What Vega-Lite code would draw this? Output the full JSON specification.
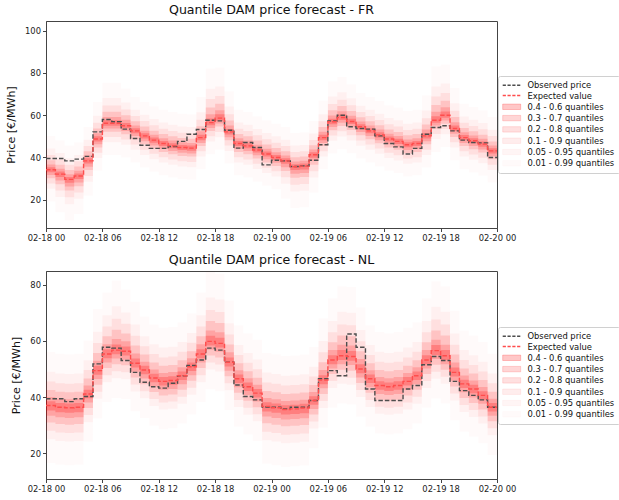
{
"$schema": "https://vega.github.io/schema/vega-lite/v6.json",
"background": "white",
"padding": {"left": 5, "top": 3, "right": 0, "bottom": 0},
"spacing": 10,
"datasets": {
"fr": [
{"h":0,"obs":39.5,"exp":34.2,"q01":19.2,"q05":25.2,"q10":27.7,"q20":30.2,"q30":31.7,"q40":33.0,"q60":35.4,"q70":36.7,"q80":38.7,"q90":41.2,"q95":44.2,"q99":50.2},
{"h":1,"obs":39.5,"exp":32.1,"q01":14.1,"q05":21.3,"q10":24.3,"q20":27.3,"q30":29.1,"q40":30.7,"q60":33.3,"q70":34.6,"q80":36.6,"q90":39.1,"q95":42.1,"q99":48.1},
{"h":2,"obs":38.4,"exp":29.6,"q01":10.1,"q05":17.9,"q10":21.1,"q20":24.4,"q30":26.3,"q40":28.0,"q60":30.8,"q70":32.1,"q80":34.1,"q90":36.6,"q95":39.6,"q99":45.6},
{"h":3,"obs":39.2,"exp":31.2,"q01":13.2,"q05":20.4,"q10":23.4,"q20":26.4,"q30":28.2,"q40":29.8,"q60":32.4,"q70":33.7,"q80":35.7,"q90":38.2,"q95":41.2,"q99":47.2},
{"h":4,"obs":40.5,"exp":38.4,"q01":21.9,"q05":28.5,"q10":31.2,"q20":34.0,"q30":35.6,"q40":37.1,"q60":39.6,"q70":40.9,"q80":42.9,"q90":45.4,"q95":48.4,"q99":54.4},
{"h":5,"obs":52.1,"exp":48.7,"q01":33.7,"q05":39.7,"q10":42.2,"q20":44.7,"q30":46.2,"q40":47.5,"q60":50.0,"q70":51.5,"q80":53.7,"q90":56.4,"q95":59.7,"q99":66.3},
{"h":6,"obs":58.0,"exp":56.2,"q01":41.2,"q05":47.2,"q10":49.7,"q20":52.2,"q30":53.7,"q40":55.0,"q60":57.6,"q70":59.2,"q80":61.6,"q90":64.6,"q95":68.2,"q99":75.4},
{"h":7,"obs":56.9,"exp":56.2,"q01":41.2,"q05":47.2,"q10":49.7,"q20":52.2,"q30":53.7,"q40":55.0,"q60":57.6,"q70":59.2,"q80":61.6,"q90":64.6,"q95":68.2,"q99":75.4},
{"h":8,"obs":53.4,"exp":55.0,"q01":40.0,"q05":46.0,"q10":48.5,"q20":51.0,"q30":52.5,"q40":53.8,"q60":56.3,"q70":57.8,"q80":60.0,"q90":62.7,"q95":66.0,"q99":72.6},
{"h":9,"obs":49.0,"exp":52.6,"q01":37.6,"q05":43.6,"q10":46.1,"q20":48.6,"q30":50.1,"q40":51.4,"q60":53.8,"q70":55.1,"q80":57.1,"q90":59.6,"q95":62.6,"q99":68.6},
{"h":10,"obs":45.8,"exp":50.2,"q01":35.2,"q05":41.2,"q10":43.7,"q20":46.2,"q30":47.7,"q40":49.0,"q60":51.4,"q70":52.7,"q80":54.7,"q90":57.2,"q95":60.2,"q99":66.2},
{"h":11,"obs":44.3,"exp":48.2,"q01":33.2,"q05":39.2,"q10":41.7,"q20":44.2,"q30":45.7,"q40":47.0,"q60":49.4,"q70":50.7,"q80":52.7,"q90":55.2,"q95":58.2,"q99":64.2},
{"h":12,"obs":44.3,"exp":46.6,"q01":31.6,"q05":37.6,"q10":40.1,"q20":42.6,"q30":44.1,"q40":45.4,"q60":47.8,"q70":49.1,"q80":51.1,"q90":53.6,"q95":56.6,"q99":62.6},
{"h":13,"obs":45.2,"exp":45.5,"q01":30.5,"q05":36.5,"q10":39.0,"q20":41.5,"q30":43.0,"q40":44.3,"q60":46.7,"q70":48.0,"q80":50.0,"q90":52.5,"q95":55.5,"q99":61.5},
{"h":14,"obs":47.6,"exp":44.7,"q01":29.7,"q05":35.7,"q10":38.2,"q20":40.7,"q30":42.2,"q40":43.5,"q60":45.9,"q70":47.2,"q80":49.2,"q90":51.7,"q95":54.7,"q99":60.7},
{"h":15,"obs":51.0,"exp":44.4,"q01":29.4,"q05":35.4,"q10":37.9,"q20":40.4,"q30":41.9,"q40":43.2,"q60":45.6,"q70":46.9,"q80":48.9,"q90":51.4,"q95":54.4,"q99":60.4},
{"h":16,"obs":53.2,"exp":49.4,"q01":34.4,"q05":40.4,"q10":42.9,"q20":45.4,"q30":46.9,"q40":48.2,"q60":50.8,"q70":52.4,"q80":54.8,"q90":57.8,"q95":61.4,"q99":68.6},
{"h":17,"obs":57.6,"exp":56.5,"q01":41.5,"q05":47.5,"q10":50.0,"q20":52.5,"q30":54.0,"q40":55.3,"q60":58.4,"q70":60.5,"q80":63.7,"q90":67.7,"q95":72.5,"q99":82.1},
{"h":18,"obs":57.3,"exp":58.6,"q01":43.6,"q05":49.6,"q10":52.1,"q20":54.6,"q30":56.1,"q40":57.4,"q60":60.4,"q70":62.4,"q80":65.4,"q90":69.1,"q95":73.6,"q99":82.6},
{"h":19,"obs":52.9,"exp":52.1,"q01":37.1,"q05":43.1,"q10":45.6,"q20":48.1,"q30":49.6,"q40":50.9,"q60":53.5,"q70":55.1,"q80":57.5,"q90":60.5,"q95":64.1,"q99":71.3},
{"h":20,"obs":44.4,"exp":46.6,"q01":31.6,"q05":37.6,"q10":40.1,"q20":42.6,"q30":44.1,"q40":45.4,"q60":47.8,"q70":49.1,"q80":51.1,"q90":53.6,"q95":56.6,"q99":62.6},
{"h":21,"obs":47.1,"exp":45.5,"q01":30.5,"q05":36.5,"q10":39.0,"q20":41.5,"q30":43.0,"q40":44.3,"q60":46.7,"q70":48.0,"q80":50.0,"q90":52.5,"q95":55.5,"q99":61.5},
{"h":22,"obs":44.7,"exp":43.5,"q01":28.5,"q05":34.5,"q10":37.0,"q20":39.5,"q30":41.0,"q40":42.3,"q60":44.7,"q70":46.0,"q80":48.0,"q90":50.5,"q95":53.5,"q99":59.5},
{"h":23,"obs":36.5,"exp":41.6,"q01":26.6,"q05":32.6,"q10":35.1,"q20":37.6,"q30":39.1,"q40":40.4,"q60":42.8,"q70":44.1,"q80":46.1,"q90":48.6,"q95":51.6,"q99":57.6},
{"h":24,"obs":38.7,"exp":40.0,"q01":25.0,"q05":31.0,"q10":33.5,"q20":36.0,"q30":37.5,"q40":38.8,"q60":41.2,"q70":42.5,"q80":44.5,"q90":47.0,"q95":50.0,"q99":56.0},
{"h":25,"obs":38.4,"exp":38.4,"q01":20.4,"q05":27.6,"q10":30.6,"q20":33.6,"q30":35.4,"q40":37.0,"q60":39.6,"q70":40.9,"q80":42.9,"q90":45.4,"q95":48.4,"q99":54.4},
{"h":26,"obs":35.7,"exp":35.6,"q01":16.1,"q05":23.9,"q10":27.1,"q20":30.4,"q30":32.3,"q40":34.0,"q60":36.8,"q70":38.1,"q80":40.1,"q90":42.6,"q95":45.6,"q99":51.6},
{"h":27,"obs":36.0,"exp":35.9,"q01":16.4,"q05":24.2,"q10":27.4,"q20":30.7,"q30":32.6,"q40":34.3,"q60":37.1,"q70":38.4,"q80":40.4,"q90":42.9,"q95":45.9,"q99":51.9},
{"h":28,"obs":38.7,"exp":41.3,"q01":23.3,"q05":30.5,"q10":33.5,"q20":36.5,"q30":38.3,"q40":39.9,"q60":42.5,"q70":43.8,"q80":45.8,"q90":48.3,"q95":51.3,"q99":57.3},
{"h":29,"obs":46.0,"exp":49.4,"q01":34.4,"q05":40.4,"q10":42.9,"q20":45.4,"q30":46.9,"q40":48.2,"q60":50.7,"q70":52.2,"q80":54.4,"q90":57.1,"q95":60.4,"q99":67.0},
{"h":30,"obs":57.3,"exp":56.9,"q01":41.9,"q05":47.9,"q10":50.4,"q20":52.9,"q30":54.4,"q40":55.7,"q60":58.3,"q70":59.9,"q80":62.3,"q90":65.3,"q95":68.9,"q99":76.1},
{"h":31,"obs":60.0,"exp":58.9,"q01":43.9,"q05":49.9,"q10":52.4,"q20":54.9,"q30":56.4,"q40":57.7,"q60":60.3,"q70":61.9,"q80":64.3,"q90":67.3,"q95":70.9,"q99":78.1},
{"h":32,"obs":54.5,"exp":57.0,"q01":42.0,"q05":48.0,"q10":50.5,"q20":53.0,"q30":54.5,"q40":55.8,"q60":58.3,"q70":59.8,"q80":62.0,"q90":64.7,"q95":68.0,"q99":74.6},
{"h":33,"obs":53.7,"exp":54.5,"q01":39.5,"q05":45.5,"q10":48.0,"q20":50.5,"q30":52.0,"q40":53.3,"q60":55.7,"q70":57.0,"q80":59.0,"q90":61.5,"q95":64.5,"q99":70.5},
{"h":34,"obs":53.4,"exp":52.6,"q01":37.6,"q05":43.6,"q10":46.1,"q20":48.6,"q30":50.1,"q40":51.4,"q60":53.8,"q70":55.1,"q80":57.1,"q90":59.6,"q95":62.6,"q99":68.6},
{"h":35,"obs":50.2,"exp":50.7,"q01":35.7,"q05":41.7,"q10":44.2,"q20":46.7,"q30":48.2,"q40":49.5,"q60":51.9,"q70":53.2,"q80":55.2,"q90":57.7,"q95":60.7,"q99":66.7},
{"h":36,"obs":46.6,"exp":48.7,"q01":33.7,"q05":39.7,"q10":42.2,"q20":44.7,"q30":46.2,"q40":47.5,"q60":49.9,"q70":51.2,"q80":53.2,"q90":55.7,"q95":58.7,"q99":64.7},
{"h":37,"obs":45.0,"exp":47.6,"q01":32.6,"q05":38.6,"q10":41.1,"q20":43.6,"q30":45.1,"q40":46.4,"q60":48.8,"q70":50.1,"q80":52.1,"q90":54.6,"q95":57.6,"q99":63.6},
{"h":38,"obs":41.6,"exp":46.0,"q01":31.0,"q05":37.0,"q10":39.5,"q20":42.0,"q30":43.5,"q40":44.8,"q60":47.2,"q70":48.5,"q80":50.5,"q90":53.0,"q95":56.0,"q99":62.0},
{"h":39,"obs":44.3,"exp":46.6,"q01":31.6,"q05":37.6,"q10":40.1,"q20":42.6,"q30":44.1,"q40":45.4,"q60":47.8,"q70":49.1,"q80":51.1,"q90":53.6,"q95":56.6,"q99":62.6},
{"h":40,"obs":51.0,"exp":50.2,"q01":35.2,"q05":41.2,"q10":43.7,"q20":46.2,"q30":47.7,"q40":49.0,"q60":51.6,"q70":53.2,"q80":55.6,"q90":58.6,"q95":62.2,"q99":69.4},
{"h":41,"obs":54.2,"exp":57.6,"q01":42.6,"q05":48.6,"q10":51.1,"q20":53.6,"q30":55.1,"q40":56.4,"q60":59.5,"q70":61.6,"q80":64.8,"q90":68.8,"q95":73.6,"q99":83.2},
{"h":42,"obs":55.0,"exp":60.0,"q01":45.0,"q05":51.0,"q10":53.5,"q20":56.0,"q30":57.5,"q40":58.8,"q60":61.8,"q70":63.8,"q80":66.8,"q90":70.5,"q95":75.0,"q99":84.0},
{"h":43,"obs":52.6,"exp":53.7,"q01":38.7,"q05":44.7,"q10":47.2,"q20":49.7,"q30":51.2,"q40":52.5,"q60":55.1,"q70":56.7,"q80":59.1,"q90":62.1,"q95":65.7,"q99":72.9},
{"h":44,"obs":48.2,"exp":49.4,"q01":34.4,"q05":40.4,"q10":42.9,"q20":45.4,"q30":46.9,"q40":48.2,"q60":50.6,"q70":51.9,"q80":53.9,"q90":56.4,"q95":59.4,"q99":65.4},
{"h":45,"obs":47.1,"exp":47.9,"q01":32.9,"q05":38.9,"q10":41.4,"q20":43.9,"q30":45.4,"q40":46.7,"q60":49.1,"q70":50.4,"q80":52.4,"q90":54.9,"q95":57.9,"q99":63.9},
{"h":46,"obs":46.9,"exp":46.3,"q01":31.3,"q05":37.3,"q10":39.8,"q20":42.3,"q30":43.8,"q40":45.1,"q60":47.5,"q70":48.8,"q80":50.8,"q90":53.3,"q95":56.3,"q99":62.3},
{"h":47,"obs":40.0,"exp":43.1,"q01":28.1,"q05":34.1,"q10":36.6,"q20":39.1,"q30":40.6,"q40":41.9,"q60":44.3,"q70":45.6,"q80":47.6,"q90":50.1,"q95":53.1,"q99":59.1},
{"h":48,"obs":40.0,"exp":43.1,"q01":28.1,"q05":34.1,"q10":36.6,"q20":39.1,"q30":40.6,"q40":41.9,"q60":44.3,"q70":45.6,"q80":47.6,"q90":50.1,"q95":53.1,"q99":59.1}
],
"nl": [
{"h":0,"obs":39.4,"exp":37.0,"q01":16.6,"q05":25.0,"q10":28.0,"q20":31.0,"q30":33.4,"q40":35.2,"q60":38.5,"q70":40.0,"q80":42.5,"q90":45.5,"q95":49.0,"q99":56.0},
{"h":1,"obs":39.4,"exp":36.4,"q01":16.0,"q05":24.4,"q10":27.4,"q20":30.4,"q30":32.8,"q40":34.6,"q60":37.9,"q70":39.4,"q80":41.9,"q90":44.9,"q95":48.4,"q99":55.4},
{"h":2,"obs":38.4,"exp":36.2,"q01":15.8,"q05":24.2,"q10":27.2,"q20":30.2,"q30":32.6,"q40":34.4,"q60":37.7,"q70":39.2,"q80":41.7,"q90":44.7,"q95":48.2,"q99":55.2},
{"h":3,"obs":39.4,"exp":36.4,"q01":16.0,"q05":24.4,"q10":27.4,"q20":30.4,"q30":32.8,"q40":34.6,"q60":37.9,"q70":39.4,"q80":41.9,"q90":44.9,"q95":48.4,"q99":55.4},
{"h":4,"obs":40.2,"exp":41.1,"q01":24.1,"q05":31.1,"q10":33.6,"q20":36.1,"q30":38.1,"q40":39.6,"q60":42.6,"q70":44.1,"q80":46.6,"q90":49.6,"q95":53.1,"q99":60.1},
{"h":5,"obs":51.8,"exp":49.4,"q01":32.4,"q05":39.4,"q10":41.9,"q20":44.4,"q30":46.4,"q40":47.9,"q60":51.1,"q70":52.9,"q80":55.7,"q90":59.2,"q95":63.2,"q99":71.3},
{"h":6,"obs":57.7,"exp":55.3,"q01":38.3,"q05":45.3,"q10":47.8,"q20":50.3,"q30":52.3,"q40":53.8,"q60":57.0,"q70":58.8,"q80":61.6,"q90":65.1,"q95":69.1,"q99":77.2},
{"h":7,"obs":57.4,"exp":56.7,"q01":39.7,"q05":46.7,"q10":49.2,"q20":51.7,"q30":53.7,"q40":55.2,"q60":58.7,"q70":60.6,"q80":63.9,"q90":67.8,"q95":72.3,"q99":81.4},
{"h":8,"obs":53.0,"exp":56.3,"q01":39.3,"q05":46.3,"q10":48.8,"q20":51.3,"q30":53.3,"q40":54.8,"q60":58.0,"q70":59.8,"q80":62.6,"q90":66.1,"q95":70.1,"q99":78.2},
{"h":9,"obs":48.8,"exp":52.0,"q01":35.0,"q05":42.0,"q10":44.5,"q20":47.0,"q30":49.0,"q40":50.5,"q60":53.7,"q70":55.5,"q80":58.3,"q90":61.8,"q95":65.8,"q99":73.9},
{"h":10,"obs":45.3,"exp":49.6,"q01":32.6,"q05":39.6,"q10":42.1,"q20":44.6,"q30":46.6,"q40":48.1,"q60":51.1,"q70":52.6,"q80":55.1,"q90":58.1,"q95":61.6,"q99":68.6},
{"h":11,"obs":43.7,"exp":46.8,"q01":29.8,"q05":36.8,"q10":39.3,"q20":41.8,"q30":43.8,"q40":45.3,"q60":48.3,"q70":49.8,"q80":52.3,"q90":55.3,"q95":58.8,"q99":65.8},
{"h":12,"obs":43.2,"exp":45.6,"q01":28.6,"q05":35.6,"q10":38.1,"q20":40.6,"q30":42.6,"q40":44.1,"q60":47.1,"q70":48.6,"q80":51.1,"q90":54.1,"q95":57.6,"q99":64.6},
{"h":13,"obs":44.9,"exp":45.9,"q01":28.9,"q05":35.9,"q10":38.4,"q20":40.9,"q30":42.9,"q40":44.4,"q60":47.4,"q70":48.9,"q80":51.4,"q90":54.4,"q95":57.9,"q99":64.9},
{"h":14,"obs":47.6,"exp":47.6,"q01":30.6,"q05":37.6,"q10":40.1,"q20":42.6,"q30":44.6,"q40":46.1,"q60":49.1,"q70":50.6,"q80":53.1,"q90":56.1,"q95":59.6,"q99":66.6},
{"h":15,"obs":51.2,"exp":50.8,"q01":33.8,"q05":40.8,"q10":43.3,"q20":45.8,"q30":47.8,"q40":49.3,"q60":52.3,"q70":53.8,"q80":56.3,"q90":59.3,"q95":62.8,"q99":69.8},
{"h":16,"obs":53.2,"exp":55.3,"q01":38.3,"q05":45.3,"q10":47.8,"q20":50.3,"q30":52.3,"q40":53.8,"q60":57.0,"q70":58.8,"q80":61.6,"q90":65.1,"q95":69.1,"q99":77.2},
{"h":17,"obs":57.4,"exp":59.8,"q01":42.8,"q05":49.8,"q10":52.3,"q20":54.8,"q30":56.8,"q40":58.3,"q60":61.8,"q70":63.7,"q80":67.0,"q90":70.9,"q95":75.4,"q99":84.5},
{"h":18,"obs":56.7,"exp":59.1,"q01":42.1,"q05":49.1,"q10":51.6,"q20":54.1,"q30":56.1,"q40":57.6,"q60":61.1,"q70":63.0,"q80":66.3,"q90":70.2,"q95":74.7,"q99":83.8},
{"h":19,"obs":52.4,"exp":52.4,"q01":35.4,"q05":42.4,"q10":44.9,"q20":47.4,"q30":49.4,"q40":50.9,"q60":54.1,"q70":55.9,"q80":58.7,"q90":62.2,"q95":66.2,"q99":74.3},
{"h":20,"obs":44.3,"exp":46.5,"q01":29.5,"q05":36.5,"q10":39.0,"q20":41.5,"q30":43.5,"q40":45.0,"q60":48.0,"q70":49.5,"q80":52.0,"q90":55.0,"q95":58.5,"q99":65.5},
{"h":21,"obs":40.2,"exp":43.7,"q01":26.7,"q05":33.7,"q10":36.2,"q20":38.7,"q30":40.7,"q40":42.2,"q60":45.2,"q70":46.7,"q80":49.2,"q90":52.2,"q95":55.7,"q99":62.7},
{"h":22,"obs":39.0,"exp":41.4,"q01":24.4,"q05":31.4,"q10":33.9,"q20":36.4,"q30":38.4,"q40":39.9,"q60":42.9,"q70":44.4,"q80":46.9,"q90":49.9,"q95":53.4,"q99":60.4},
{"h":23,"obs":36.5,"exp":36.7,"q01":16.3,"q05":24.7,"q10":27.7,"q20":30.7,"q30":33.1,"q40":34.9,"q60":38.2,"q70":39.7,"q80":42.2,"q90":45.2,"q95":48.7,"q99":55.7},
{"h":24,"obs":36.4,"exp":36.2,"q01":15.8,"q05":24.2,"q10":27.2,"q20":30.2,"q30":32.6,"q40":34.4,"q60":37.7,"q70":39.2,"q80":41.7,"q90":44.7,"q95":48.2,"q99":55.2},
{"h":25,"obs":35.8,"exp":35.6,"q01":15.2,"q05":23.6,"q10":26.6,"q20":29.6,"q30":32.0,"q40":33.8,"q60":37.1,"q70":38.6,"q80":41.1,"q90":44.1,"q95":47.6,"q99":54.6},
{"h":26,"obs":36.4,"exp":35.8,"q01":15.4,"q05":23.8,"q10":26.8,"q20":29.8,"q30":32.2,"q40":34.0,"q60":37.3,"q70":38.8,"q80":41.3,"q90":44.3,"q95":47.8,"q99":54.8},
{"h":27,"obs":36.4,"exp":36.1,"q01":15.7,"q05":24.1,"q10":27.1,"q20":30.1,"q30":32.5,"q40":34.3,"q60":37.6,"q70":39.1,"q80":41.6,"q90":44.6,"q95":48.1,"q99":55.1},
{"h":28,"obs":38.8,"exp":38.8,"q01":21.8,"q05":28.8,"q10":31.3,"q20":33.8,"q30":35.8,"q40":37.3,"q60":40.3,"q70":41.8,"q80":44.3,"q90":47.3,"q95":50.8,"q99":57.8},
{"h":29,"obs":46.5,"exp":46.1,"q01":29.1,"q05":36.1,"q10":38.6,"q20":41.1,"q30":43.1,"q40":44.6,"q60":47.8,"q70":49.6,"q80":52.4,"q90":55.9,"q95":59.9,"q99":68.0},
{"h":30,"obs":49.4,"exp":53.2,"q01":36.2,"q05":43.2,"q10":45.7,"q20":48.2,"q30":50.2,"q40":51.7,"q60":54.9,"q70":56.7,"q80":59.5,"q90":63.0,"q95":67.0,"q99":75.1},
{"h":31,"obs":47.6,"exp":54.7,"q01":37.7,"q05":44.7,"q10":47.2,"q20":49.7,"q30":51.7,"q40":53.2,"q60":56.7,"q70":58.6,"q80":61.9,"q90":65.8,"q95":70.3,"q99":79.4},
{"h":32,"obs":62.4,"exp":54.4,"q01":37.4,"q05":44.4,"q10":46.9,"q20":49.4,"q30":51.4,"q40":52.9,"q60":56.4,"q70":58.3,"q80":61.6,"q90":65.5,"q95":70.0,"q99":79.1},
{"h":33,"obs":57.7,"exp":50.0,"q01":33.0,"q05":40.0,"q10":42.5,"q20":45.0,"q30":47.0,"q40":48.5,"q60":51.7,"q70":53.5,"q80":56.3,"q90":59.8,"q95":63.8,"q99":71.9},
{"h":34,"obs":42.9,"exp":46.5,"q01":29.5,"q05":36.5,"q10":39.0,"q20":41.5,"q30":43.5,"q40":45.0,"q60":48.0,"q70":49.5,"q80":52.0,"q90":55.0,"q95":58.5,"q99":65.5},
{"h":35,"obs":38.8,"exp":44.1,"q01":27.1,"q05":34.1,"q10":36.6,"q20":39.1,"q30":41.1,"q40":42.6,"q60":45.6,"q70":47.1,"q80":49.6,"q90":52.6,"q95":56.1,"q99":63.1},
{"h":36,"obs":38.8,"exp":43.7,"q01":26.7,"q05":33.7,"q10":36.2,"q20":38.7,"q30":40.7,"q40":42.2,"q60":45.2,"q70":46.7,"q80":49.2,"q90":52.2,"q95":55.7,"q99":62.7},
{"h":37,"obs":38.8,"exp":44.1,"q01":27.1,"q05":34.1,"q10":36.6,"q20":39.1,"q30":41.1,"q40":42.6,"q60":45.6,"q70":47.1,"q80":49.6,"q90":52.6,"q95":56.1,"q99":63.1},
{"h":38,"obs":42.9,"exp":45.6,"q01":28.6,"q05":35.6,"q10":38.1,"q20":40.6,"q30":42.6,"q40":44.1,"q60":47.1,"q70":48.6,"q80":51.1,"q90":54.1,"q95":57.6,"q99":64.6},
{"h":39,"obs":44.1,"exp":47.6,"q01":30.6,"q05":37.6,"q10":40.1,"q20":42.6,"q30":44.6,"q40":46.1,"q60":49.1,"q70":50.6,"q80":53.1,"q90":56.1,"q95":59.6,"q99":66.6},
{"h":40,"obs":51.5,"exp":53.2,"q01":36.2,"q05":43.2,"q10":45.7,"q20":48.2,"q30":50.2,"q40":51.7,"q60":54.9,"q70":56.7,"q80":59.5,"q90":63.0,"q95":67.0,"q99":75.1},
{"h":41,"obs":54.4,"exp":56.5,"q01":39.5,"q05":46.5,"q10":49.0,"q20":51.5,"q30":53.5,"q40":55.0,"q60":58.5,"q70":60.4,"q80":63.7,"q90":67.6,"q95":72.1,"q99":81.2},
{"h":42,"obs":53.0,"exp":54.7,"q01":37.7,"q05":44.7,"q10":47.2,"q20":49.7,"q30":51.7,"q40":53.2,"q60":56.7,"q70":58.6,"q80":61.9,"q90":65.8,"q95":70.3,"q99":79.4},
{"h":43,"obs":45.6,"exp":48.8,"q01":31.8,"q05":38.8,"q10":41.3,"q20":43.8,"q30":45.8,"q40":47.3,"q60":50.5,"q70":52.3,"q80":55.1,"q90":58.6,"q95":62.6,"q99":70.7},
{"h":44,"obs":42.3,"exp":44.7,"q01":27.7,"q05":34.7,"q10":37.2,"q20":39.7,"q30":41.7,"q40":43.2,"q60":46.2,"q70":47.7,"q80":50.2,"q90":53.2,"q95":56.7,"q99":63.7},
{"h":45,"obs":40.6,"exp":42.9,"q01":25.9,"q05":32.9,"q10":35.4,"q20":37.9,"q30":39.9,"q40":41.4,"q60":44.4,"q70":45.9,"q80":48.4,"q90":51.4,"q95":54.9,"q99":61.9},
{"h":46,"obs":39.0,"exp":40.6,"q01":23.6,"q05":30.6,"q10":33.1,"q20":35.6,"q30":37.6,"q40":39.1,"q60":42.1,"q70":43.6,"q80":46.1,"q90":49.1,"q95":52.6,"q99":59.6},
{"h":47,"obs":36.4,"exp":36.4,"q01":19.4,"q05":26.4,"q10":28.9,"q20":31.4,"q30":33.4,"q40":34.9,"q60":37.9,"q70":39.4,"q80":41.9,"q90":44.9,"q95":48.4,"q99":55.4},
{"h":48,"obs":36.4,"exp":36.4,"q01":19.4,"q05":26.4,"q10":28.9,"q20":31.4,"q30":33.4,"q40":34.9,"q60":37.9,"q70":39.4,"q80":41.9,"q90":44.9,"q95":48.4,"q99":55.4}
]
},
"resolve": {"scale": {"y": "independent"}, "legend": {"color": "independent"}},
"vconcat": [
{
"title": "Quantile DAM price forecast - FR",
"width": 451, "height": 207,
"data": {"name": "fr"},
"encoding": {"x": {"field": "h", "type": "quantitative", "title": null,
  "scale": {"domain": [0, 48], "nice": false, "zero": false},
  "axis": {"values": [0, 6, 12, 18, 24, 30, 36, 42, 48], "labelExpr": "['02-18 00','02-18 06','02-18 12','02-18 18','02-19 00','02-19 06','02-19 12','02-19 18','02-20 00'][datum.value / 6]", "labelFlush": false, "labelOverlap": false}}},
"layer": [
{"mark": {"type": "area", "interpolate": "step-after"}, "encoding": {
  "y": {"field": "q01", "type": "quantitative", "title": "Price [€/MWh]", "scale": {"domain": [6.6, 104.6], "nice": false, "zero": false}, "axis": {"values": [20, 40, 60, 80, 100]}},
  "y2": {"field": "q99"},
  "color": {"datum": "0.01 - 0.99 quantiles",
    "scale": {"domain": ["Observed price", "Expected value", "0.4 - 0.6 quantiles", "0.3 - 0.7 quantiles", "0.2 - 0.8 quantiles", "0.1 - 0.9 quantiles", "0.05 - 0.95 quantiles", "0.01 - 0.99 quantiles"],
      "range": ["#4d4d4d", "#ff4d4d", "rgba(255,0,0,0.22)", "rgba(255,0,0,0.16)", "rgba(255,0,0,0.12)", "rgba(255,0,0,0.07)", "rgba(255,0,0,0.04)", "rgba(255,0,0,0.018)"]},
    "legend": {"title": null, "orient": "right", "offset": 1, "padding": 5, "labelFont": "DejaVu Sans", "labelFontSize": 8.4, "labelColor": "#111", "labelLimit": 0, "symbolSize": 81, "symbolStrokeWidth": 1.5, "labelOffset": 16, "rowPadding": 1.3, "strokeColor": "#d0d0d0", "fillColor": "white", "cornerRadius": 2,
      "encode": {"symbols": {"update": {
        "shape": {"signal": "(datum.value == 'Observed price' || datum.value == 'Expected value') ? 'M-1,0H3' : 'M-1,-0.6H3V0.6H-1Z'"},
        "fill": {"signal": "['transparent','transparent','rgba(255,0,0,0.22)','rgba(255,0,0,0.16)','rgba(255,0,0,0.12)','rgba(255,0,0,0.07)','rgba(255,0,0,0.04)','rgba(255,0,0,0.018)'][indexof(['Observed price','Expected value','0.4 - 0.6 quantiles','0.3 - 0.7 quantiles','0.2 - 0.8 quantiles','0.1 - 0.9 quantiles','0.05 - 0.95 quantiles','0.01 - 0.99 quantiles'], datum.value)]"},
        "stroke": {"signal": "['#4d4d4d','#ff4d4d','rgba(255,0,0,0.22)','rgba(255,0,0,0.16)','rgba(255,0,0,0.12)','rgba(255,0,0,0.07)','rgba(255,0,0,0.04)','rgba(255,0,0,0.018)'][indexof(['Observed price','Expected value','0.4 - 0.6 quantiles','0.3 - 0.7 quantiles','0.2 - 0.8 quantiles','0.1 - 0.9 quantiles','0.05 - 0.95 quantiles','0.01 - 0.99 quantiles'], datum.value)]"},
        "strokeDash": {"signal": "(datum.value == 'Observed price' || datum.value == 'Expected value') ? [3.2, 1.6] : [1, 0]"},
        "strokeWidth": {"signal": "(datum.value == 'Observed price' || datum.value == 'Expected value') ? 1.5 : 1"}
      }}}}}}},
{"mark": {"type": "area", "interpolate": "step-after"}, "encoding": {"y": {"field": "q05", "type": "quantitative", "title": "Price [€/MWh]"}, "y2": {"field": "q95"}, "color": {"datum": "0.05 - 0.95 quantiles"}}},
{"mark": {"type": "area", "interpolate": "step-after"}, "encoding": {"y": {"field": "q10", "type": "quantitative", "title": "Price [€/MWh]"}, "y2": {"field": "q90"}, "color": {"datum": "0.1 - 0.9 quantiles"}}},
{"mark": {"type": "area", "interpolate": "step-after"}, "encoding": {"y": {"field": "q20", "type": "quantitative", "title": "Price [€/MWh]"}, "y2": {"field": "q80"}, "color": {"datum": "0.2 - 0.8 quantiles"}}},
{"mark": {"type": "area", "interpolate": "step-after"}, "encoding": {"y": {"field": "q30", "type": "quantitative", "title": "Price [€/MWh]"}, "y2": {"field": "q70"}, "color": {"datum": "0.3 - 0.7 quantiles"}}},
{"mark": {"type": "area", "interpolate": "step-after"}, "encoding": {"y": {"field": "q40", "type": "quantitative", "title": "Price [€/MWh]"}, "y2": {"field": "q60"}, "color": {"datum": "0.4 - 0.6 quantiles"}}},
{"mark": {"type": "line", "interpolate": "step-after", "strokeDash": [4.5, 2], "strokeWidth": 1.4}, "encoding": {"y": {"field": "obs", "type": "quantitative", "title": "Price [€/MWh]"}, "color": {"datum": "Observed price"}}},
{"mark": {"type": "line", "interpolate": "step-after", "strokeDash": [4.5, 2], "strokeWidth": 1.4}, "encoding": {"y": {"field": "exp", "type": "quantitative", "title": "Price [€/MWh]"}, "color": {"datum": "Expected value"}}}
]
},
{
"title": "Quantile DAM price forecast - NL",
"width": 451, "height": 208,
"data": {"name": "nl"},
"encoding": {"x": {"field": "h", "type": "quantitative", "title": null,
  "scale": {"domain": [0, 48], "nice": false, "zero": false},
  "axis": {"values": [0, 6, 12, 18, 24, 30, 36, 42, 48], "labelExpr": "['02-18 00','02-18 06','02-18 12','02-18 18','02-19 00','02-19 06','02-19 12','02-19 18','02-20 00'][datum.value / 6]", "labelFlush": false, "labelOverlap": false}}},
"layer": [
{"mark": {"type": "area", "interpolate": "step-after"}, "encoding": {
  "y": {"field": "q01", "type": "quantitative", "title": "Price [€/MWh]", "scale": {"domain": [10.9, 84.8], "nice": false, "zero": false}, "axis": {"values": [20, 30, 40, 50, 60, 70, 80]}},
  "y2": {"field": "q99"},
  "color": {"datum": "0.01 - 0.99 quantiles",
    "scale": {"domain": ["Observed price", "Expected value", "0.4 - 0.6 quantiles", "0.3 - 0.7 quantiles", "0.2 - 0.8 quantiles", "0.1 - 0.9 quantiles", "0.05 - 0.95 quantiles", "0.01 - 0.99 quantiles"],
      "range": ["#4d4d4d", "#ff4d4d", "rgba(255,0,0,0.22)", "rgba(255,0,0,0.16)", "rgba(255,0,0,0.12)", "rgba(255,0,0,0.07)", "rgba(255,0,0,0.04)", "rgba(255,0,0,0.018)"]},
    "legend": {"title": null, "orient": "right", "offset": 1, "padding": 5, "labelFont": "DejaVu Sans", "labelFontSize": 8.4, "labelColor": "#111", "labelLimit": 0, "symbolSize": 81, "symbolStrokeWidth": 1.5, "labelOffset": 16, "rowPadding": 1.3, "strokeColor": "#d0d0d0", "fillColor": "white", "cornerRadius": 2,
      "encode": {"symbols": {"update": {
        "shape": {"signal": "(datum.value == 'Observed price' || datum.value == 'Expected value') ? 'M-1,0H3' : 'M-1,-0.6H3V0.6H-1Z'"},
        "fill": {"signal": "['transparent','transparent','rgba(255,0,0,0.22)','rgba(255,0,0,0.16)','rgba(255,0,0,0.12)','rgba(255,0,0,0.07)','rgba(255,0,0,0.04)','rgba(255,0,0,0.018)'][indexof(['Observed price','Expected value','0.4 - 0.6 quantiles','0.3 - 0.7 quantiles','0.2 - 0.8 quantiles','0.1 - 0.9 quantiles','0.05 - 0.95 quantiles','0.01 - 0.99 quantiles'], datum.value)]"},
        "stroke": {"signal": "['#4d4d4d','#ff4d4d','rgba(255,0,0,0.22)','rgba(255,0,0,0.16)','rgba(255,0,0,0.12)','rgba(255,0,0,0.07)','rgba(255,0,0,0.04)','rgba(255,0,0,0.018)'][indexof(['Observed price','Expected value','0.4 - 0.6 quantiles','0.3 - 0.7 quantiles','0.2 - 0.8 quantiles','0.1 - 0.9 quantiles','0.05 - 0.95 quantiles','0.01 - 0.99 quantiles'], datum.value)]"},
        "strokeDash": {"signal": "(datum.value == 'Observed price' || datum.value == 'Expected value') ? [3.2, 1.6] : [1, 0]"},
        "strokeWidth": {"signal": "(datum.value == 'Observed price' || datum.value == 'Expected value') ? 1.5 : 1"}
      }}}}}}},
{"mark": {"type": "area", "interpolate": "step-after"}, "encoding": {"y": {"field": "q05", "type": "quantitative", "title": "Price [€/MWh]"}, "y2": {"field": "q95"}, "color": {"datum": "0.05 - 0.95 quantiles"}}},
{"mark": {"type": "area", "interpolate": "step-after"}, "encoding": {"y": {"field": "q10", "type": "quantitative", "title": "Price [€/MWh]"}, "y2": {"field": "q90"}, "color": {"datum": "0.1 - 0.9 quantiles"}}},
{"mark": {"type": "area", "interpolate": "step-after"}, "encoding": {"y": {"field": "q20", "type": "quantitative", "title": "Price [€/MWh]"}, "y2": {"field": "q80"}, "color": {"datum": "0.2 - 0.8 quantiles"}}},
{"mark": {"type": "area", "interpolate": "step-after"}, "encoding": {"y": {"field": "q30", "type": "quantitative", "title": "Price [€/MWh]"}, "y2": {"field": "q70"}, "color": {"datum": "0.3 - 0.7 quantiles"}}},
{"mark": {"type": "area", "interpolate": "step-after"}, "encoding": {"y": {"field": "q40", "type": "quantitative", "title": "Price [€/MWh]"}, "y2": {"field": "q60"}, "color": {"datum": "0.4 - 0.6 quantiles"}}},
{"mark": {"type": "line", "interpolate": "step-after", "strokeDash": [4.5, 2], "strokeWidth": 1.4}, "encoding": {"y": {"field": "obs", "type": "quantitative", "title": "Price [€/MWh]"}, "color": {"datum": "Observed price"}}},
{"mark": {"type": "line", "interpolate": "step-after", "strokeDash": [4.5, 2], "strokeWidth": 1.4}, "encoding": {"y": {"field": "exp", "type": "quantitative", "title": "Price [€/MWh]"}, "color": {"datum": "Expected value"}}}
]
}
],
"config": {
  "font": "DejaVu Sans",
  "view": {"stroke": "#444", "strokeWidth": 1},
  "title": {"font": "DejaVu Sans", "fontSize": 12.6, "fontWeight": "normal", "color": "#111", "offset": 4},
  "axis": {"labelFont": "DejaVu Sans", "labelFontSize": 8.4, "labelColor": "#222", "titleFont": "DejaVu Sans", "titleFontSize": 11.1, "titleFontWeight": "normal", "titleColor": "#111", "domainColor": "#444", "tickColor": "#444", "tickSize": 3.5, "labelPadding": 2, "grid": false},
  "axisY": {"titlePadding": 8},
  "legend": {"layout": {"right": {"anchor": "middle"}}}
}
}
